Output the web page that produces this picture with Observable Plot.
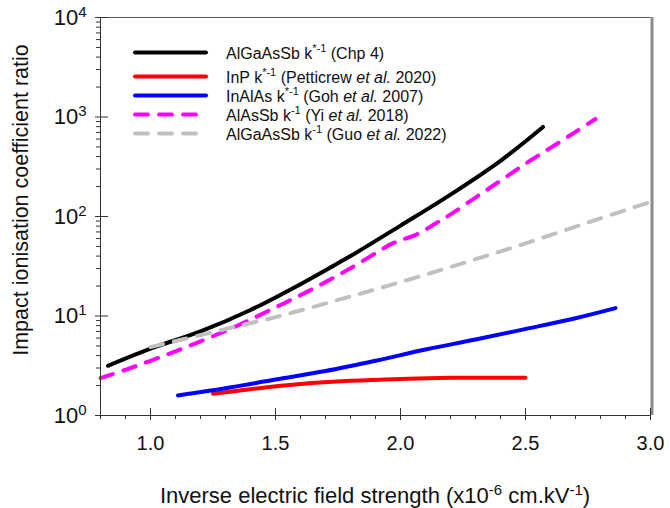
<!DOCTYPE html>
<html>
<head>
<meta charset="utf-8">
<script src="https://cdn.jsdelivr.net/npm/d3@7"></script>
<script src="https://cdn.jsdelivr.net/npm/@observablehq/plot@0.6"></script>
<style>
  html, body { margin: 0; padding: 0; background: #fff; }
  #chart { width: 670px; height: 508px; }
</style>
</head>
<body>
<div id="chart"></div>
<script>
// Impact ionisation coefficient ratio versus inverse electric field (x1e-6 cm/kV)

// AlGaAsSb k*-1 (Chp 4)
const chp4X = [0.83, 1.0, 1.2, 1.4, 1.6, 1.8, 2.0, 2.2, 2.4, 2.57];
const chp4Y = [3.16, 4.7, 7.0, 11.5, 20.9, 40, 81, 166, 363, 794];

// InP k*-1 (Petticrew et al. 2020)
const inpX = [1.25, 1.35, 1.45, 1.6, 1.8, 2.0, 2.2, 2.35, 2.5];
const inpY = [1.65, 1.77, 1.90, 2.07, 2.23, 2.33, 2.39, 2.40, 2.40];

// InAlAs k*-1 (Goh et al. 2007)
const inalasX = [1.11, 1.3, 1.5, 1.7, 1.9, 2.1, 2.3, 2.5, 2.7, 2.86];
const inalasY = [1.59, 1.88, 2.3, 2.8, 3.55, 4.6, 5.8, 7.4, 9.5, 12.0];

// AlAsSb k-1 (Yi et al. 2018)
const alassbX = [0.8, 0.9, 1.0, 1.1, 1.2, 1.3, 1.4, 1.5, 1.6, 1.7, 1.8, 1.9, 1.96, 2.0, 2.07, 2.14, 2.2, 2.3, 2.4, 2.5, 2.6, 2.7, 2.78];
const alassbY = [2.37, 2.88, 3.55, 4.42, 5.56, 7.08, 9.2, 12.2, 16.2, 21.9, 30.2, 42.7, 52.5, 57.5, 67, 85, 105, 155, 229, 339, 490, 708, 955];

// AlGaAsSb k-1 (Guo et al. 2022)
const guoX = [1.0, 1.25, 1.5, 1.75, 2.0, 2.25, 2.5, 2.75, 3.0];
const guoY = [4.87, 6.9, 9.75, 14.5, 21.9, 34, 53.7, 87, 140];

// Legend text
const legendMaterial = ["AlGaAsSb", "InP", "InAlAs", "AlAsSb", "AlGaAsSb"];
const legendPower = ["*-1", "*-1", "*-1", "-1", "-1"];
const legendAuthor = ["Chp 4", "Petticrew", "Goh", "Yi", "Guo"];
const legendYear = [null, "2020", "2007", "2018", "2022"];

// Axis ticks
const xTicks = [1.0, 1.5, 2.0, 2.5, 3.0];
const xMinorTicks = [0.8, 0.9, 1.1, 1.2, 1.3, 1.4, 1.6, 1.7, 1.8, 1.9, 2.1, 2.2, 2.3, 2.4, 2.6, 2.7, 2.8, 2.9];
const yTicks = [1, 10, 100, 1000, 10000];
const yMinorTicks = [2, 3, 4, 5, 6, 7, 8, 9, 20, 30, 40, 50, 60, 70, 80, 90,
  200, 300, 400, 500, 600, 700, 800, 900, 2000, 3000, 4000, 5000, 6000, 7000, 8000, 9000];

const FONT = '"Liberation Sans", Arial, Helvetica, sans-serif';
const DASH = "13,11";

const series = [
  {x: chp4X, y: chp4Y, color: "#000000", dash: null},
  {x: inpX, y: inpY, color: "#ff0000", dash: null},
  {x: inalasX, y: inalasY, color: "#0000ff", dash: null},
  {x: alassbX, y: alassbY, color: "#ff00ff", dash: DASH},
  {x: guoX, y: guoY, color: "#c0c0c0", dash: DASH}
].map((s, i) => ({
  ...s,
  material: legendMaterial[i],
  power: legendPower[i],
  author: legendAuthor[i],
  year: legendYear[i],
  rows: s.x.map((x, j) => ({x, y: s.y[j]}))
}));

const axisColor = "#333";

const plot = Plot.plot({
  width: 670,
  height: 508,
  marginLeft: 100,
  marginRight: 20,
  marginTop: 17,
  marginBottom: 93,
  style: {fontFamily: FONT, background: "#fff", color: "#111"},
  x: {domain: [0.8, 3.0]},
  y: {type: "log", domain: [1, 10000]},
  marks: [
    // data curves
    ...series.map(s => Plot.line(s.rows, {
      x: "x", y: "y",
      stroke: s.color,
      strokeWidth: 4,
      strokeDasharray: s.dash,
      strokeLinecap: "round",
      curve: "catmull-rom"
    })),
    // frame: top and right borders
    Plot.ruleY([10000], {stroke: "#555", strokeWidth: 1}),
    Plot.ruleX([3.0], {stroke: "#8a8a8a", strokeWidth: 3, dx: 1.5}),
    // axis lines
    Plot.ruleX([0.8], {stroke: axisColor, strokeWidth: 1}),
    Plot.ruleY([1], {stroke: axisColor, strokeWidth: 1}),
    // x ticks: minor outward, major crossing the axis
    Plot.axisX(xMinorTicks, {tickSize: 4, tickFormat: () => "", label: null, color: axisColor}),
    Plot.axisX(xTicks, {tickSize: 12, dy: -7, tickFormat: () => "", label: null, color: axisColor}),
    Plot.axisX(xTicks, {tickSize: 0, tickPadding: 20, tickFormat: d => d.toFixed(1), fontSize: 20, label: null, color: "#111"}),
    // y ticks
    Plot.axisY(yMinorTicks, {tickSize: 4, tickFormat: () => "", label: null, color: axisColor}),
    Plot.axisY(yTicks, {tickSize: 13, dx: 8, tickFormat: () => "", label: null, color: axisColor}),
    Plot.axisY(yTicks, {tickSize: 0, tickPadding: 14, tickFormat: d => String(Math.round(Math.log10(d))), fontSize: 22, label: null, color: "#111"})
  ]
});

document.getElementById("chart").append(plot);

const svg = d3.select(plot);

// y tick labels as powers of ten
svg.selectAll('g[aria-label="y-axis tick label"] text').each(function () {
  const e = this.textContent;
  if (!e) return;
  const t = d3.select(this);
  t.text(null);
  t.append("tspan").text("10");
  t.append("tspan").attr("font-size", 15).attr("dy", -8).text(e);
});

// axis titles
const titles = svg.append("g").attr("font-family", FONT).attr("fill", "#111");
const xt = titles.append("text")
  .attr("x", 375).attr("y", 503)
  .attr("text-anchor", "middle")
  .attr("font-size", 22);
xt.append("tspan").text("Inverse electric field strength (x10");
xt.append("tspan").attr("font-size", 15).attr("dy", -8).text("-6");
xt.append("tspan").attr("dy", 8).text(" cm.kV");
xt.append("tspan").attr("font-size", 15).attr("dy", -8).text("-1");
xt.append("tspan").attr("dy", 8).text(")");

titles.append("text")
  .attr("transform", "translate(28,200) rotate(-90)")
  .attr("text-anchor", "middle")
  .attr("font-size", 21.5)
  .text("Impact ionisation coefficient ratio");

// legend
const legendRowY = [52.5, 76.5, 95.5, 114.5, 133.5];
const lg = svg.append("g")
  .attr("font-family", FONT)
  .attr("font-size", 16)
  .attr("fill", "#111")
  .attr("text-anchor", "start");
series.forEach((s, i) => {
  const y = legendRowY[i];
  lg.append("line")
    .attr("x1", 135).attr("x2", s.dash ? 198 : 206)
    .attr("y1", y).attr("y2", y)
    .attr("stroke", s.color).attr("stroke-width", 4)
    .attr("stroke-linecap", "round")
    .attr("stroke-dasharray", s.dash);
  const t = lg.append("text").attr("x", 226).attr("y", y + 6).attr("text-anchor", "start");
  t.append("tspan").text(`${s.material} k`);
  t.append("tspan").attr("font-size", 11).attr("dy", -7).text(s.power);
  if (s.year) {
    t.append("tspan").attr("dy", 7).text(` (${s.author} `);
    t.append("tspan").attr("font-style", "italic").text("et al.");
    t.append("tspan").text(` ${s.year})`);
  } else {
    t.append("tspan").attr("dy", 7).text(` (${s.author})`);
  }
});
</script>
</body>
</html>
